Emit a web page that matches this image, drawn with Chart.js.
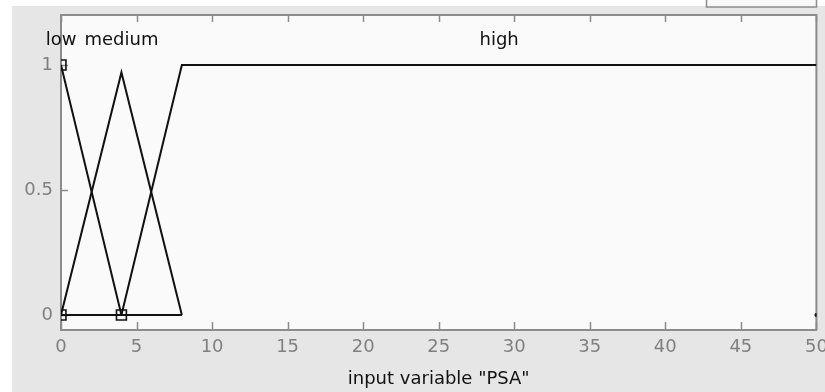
<!DOCTYPE html>
<html>
<head>
<meta charset="utf-8">
<script src="https://cdn.jsdelivr.net/npm/chart.js@4.4.0/dist/chart.umd.min.js"></script>
<style>
  html, body { margin: 0; padding: 0; background: #fff; }
  #chart { display: block; }
</style>
</head>
<body>
<canvas id="chart" width="825" height="392"></canvas>
<script>
// Zugehörigkeitsfunktionen
const mfNames = ["low", "medium", "high"];
const lowX = [0, 4, 8];
const lowY = [1, 0, 0];
const mediumX = [0, 4, 8];
const mediumY = [0, 0.97, 0];
const highX = [0, 4, 8, 50];
const highY = [0, 0, 1, 1];
// Marker am Rand
const handleX = [0, 0, 4, 50];
const handleY = [1, 0, 0, 0];

const xTicks = [0, 5, 10, 15, 20, 25, 30, 35, 40, 45, 50];
const yTicks = [0, 0.5, 1];
const xTitle = 'input variable "PSA"';

const FONT = "'DejaVu Sans', sans-serif";
const toPoints = (xs, ys) => xs.map((x, i) => ({ x: x, y: ys[i] }));

const series = [
  { name: mfNames[0], xs: lowX, ys: lowY },
  { name: mfNames[1], xs: mediumX, ys: mediumY },
  { name: mfNames[2], xs: highX, ys: highY },
];

// Hintergrund, Rahmen, Ticks nach innen
const frame = {
  id: "frame",
  beforeDraw(chart) {
    const c = chart.ctx;
    const a = chart.chartArea;
    c.save();
    c.fillStyle = "#e6e6e6";
    c.fillRect(0, 0, chart.width, chart.height);
    c.fillStyle = "#ffffff";
    c.fillRect(0, 0, chart.width, 6);
    c.fillRect(0, 0, 12, chart.height);
    // kleines Feld oben rechts
    c.fillStyle = "#f8f8f8";
    c.fillRect(706, 0, 111, 7);
    c.strokeStyle = "#8c8c8c";
    c.lineWidth = 1.5;
    c.beginPath();
    c.moveTo(706.5, 0);
    c.lineTo(706.5, 7);
    c.lineTo(816.5, 7);
    c.lineTo(816.5, 0);
    c.stroke();
    c.fillStyle = "#fafafa";
    c.fillRect(a.left, a.top, a.right - a.left, a.bottom - a.top);
    c.restore();
  },
  beforeDatasetsDraw(chart) {
    const c = chart.ctx;
    const a = chart.chartArea;
    const xs = chart.scales.x;
    const ys = chart.scales.y;
    c.save();
    c.strokeStyle = "#8c8c8c";
    c.lineWidth = 2;
    c.beginPath();
    c.moveTo(a.left, a.top);
    c.lineTo(a.right, a.top);
    c.lineTo(a.right, a.bottom);
    c.stroke();
    c.lineWidth = 1.5;
    c.beginPath();
    xTicks.forEach((t) => {
      const px = Math.round(xs.getPixelForValue(t)) + 0.5;
      c.moveTo(px, a.bottom);
      c.lineTo(px, a.bottom - 8);
      c.moveTo(px, a.top);
      c.lineTo(px, a.top + 7);
    });
    yTicks.forEach((t) => {
      const py = Math.round(ys.getPixelForValue(t)) + 0.5;
      c.moveTo(a.left, py);
      c.lineTo(a.left + 7, py);
    });
    c.stroke();
    c.restore();
  },
  afterDatasetsDraw(chart) {
    const c = chart.ctx;
    const xs = chart.scales.x;
    const ys = chart.scales.y;
    c.save();
    c.fillStyle = "#111";
    c.font = "18px " + FONT;
    c.textAlign = "center";
    c.textBaseline = "middle";
    series.forEach((s) => {
      const top = Math.max(...s.ys);
      const atTop = s.xs.filter((x, i) => s.ys[i] === top);
      const cx = (Math.min(...atTop) + Math.max(...atTop)) / 2;
      c.fillText(s.name, xs.getPixelForValue(cx), ys.getPixelForValue(1.1));
    });
    c.restore();
  },
};

const ctx = document.querySelector("#chart").getContext("2d");

new Chart(ctx, {
  type: "line",
  data: {
    datasets: series
      .map((s) => ({
        label: s.name,
        data: toPoints(s.xs, s.ys),
        borderColor: "#111",
        borderWidth: 2,
        pointRadius: 0,
        tension: 0,
        fill: false,
        clip: 0,
      }))
      .concat([
        {
          label: "handles",
          data: toPoints(handleX, handleY),
          showLine: false,
          pointStyle: ["rect", "rect", "rect", "circle"],
          pointRadius: [7, 7, 7, 1.2],
          pointBorderWidth: 1.6,
          pointBorderColor: "#111",
          pointBackgroundColor: ["rgba(0,0,0,0)", "rgba(0,0,0,0)", "rgba(0,0,0,0)", "#111"],
          clip: 0,
        },
      ]),
  },
  options: {
    responsive: false,
    animation: false,
    devicePixelRatio: 1,
    layout: { padding: { left: 0, top: 15, right: 6, bottom: 0 } },
    scales: {
      x: {
        type: "linear",
        min: 0,
        max: 50,
        grid: { display: false, drawTicks: false },
        border: { display: true, color: "#8c8c8c", width: 2 },
        afterBuildTicks: (s) => { s.ticks = xTicks.map((v) => ({ value: v })); },
        ticks: { color: "#808080", font: { family: FONT, size: 18 }, padding: 7, maxRotation: 0, autoSkip: false, callback: (v) => String(v) },
        title: { display: true, text: xTitle, color: "#111", font: { family: FONT, size: 18 }, padding: { top: 0, bottom: 2 } },
        afterFit: (s) => { s.height = 62; s.paddingLeft = 0; s.paddingRight = 0; },
      },
      y: {
        type: "linear",
        min: -0.06,
        max: 1.2,
        grid: { display: false, drawTicks: false },
        border: { display: true, color: "#8c8c8c", width: 2 },
        afterBuildTicks: (s) => { s.ticks = yTicks.map((v) => ({ value: v })); },
        ticks: { color: "#808080", font: { family: FONT, size: 18 }, padding: 8, callback: (v) => String(v) },
        afterFit: (s) => { s.width = 61; s.paddingTop = 0; s.paddingBottom = 0; },
      },
    },
    plugins: {
      legend: { display: false },
      tooltip: { enabled: false },
    },
  },
  plugins: [frame],
});
</script>
</body>
</html>
